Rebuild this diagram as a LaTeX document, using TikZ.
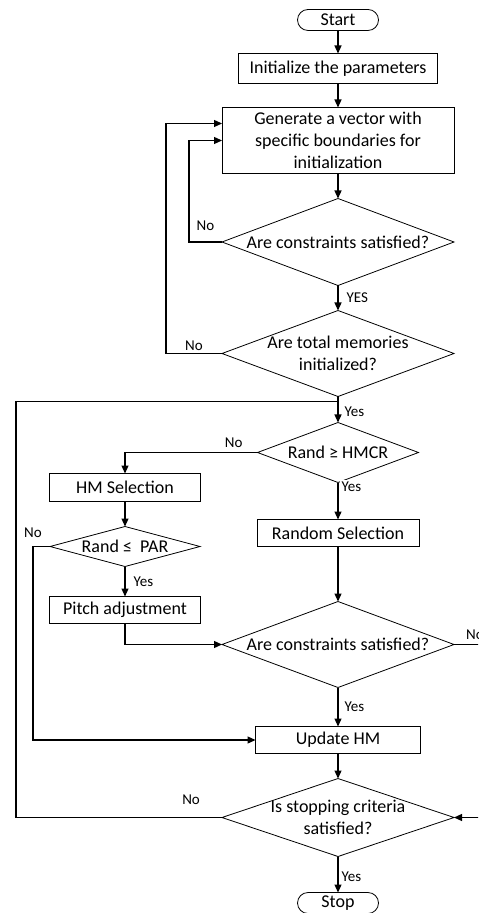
\documentclass[tikz,border=0pt]{standalone}
\usepackage{fontspec}
\setmainfont{Carlito}
\usetikzlibrary{arrows.meta,positioning,shapes.geometric}
\tikzset{
 terminal/.style={draw,rounded corners=5.25pt,minimum width=40.5pt,minimum height=10.5pt,inner sep=0pt,outer sep=0pt,font=\fontsize{9}{11}\selectfont},
 process/.style={draw,inner sep=0pt,outer sep=0pt,minimum height=13.5pt,align=center,font=\fontsize{9}{11}\selectfont},
 decision/.style={draw,diamond,shape aspect=2.7,inner xsep=0pt,inner ysep=-3pt,outer sep=0pt,align=center,font=\fontsize{9}{11}\selectfont},
 flow/.style={-{Triangle[length=4pt,width=3.5pt]},line width=.6pt},
 wire/.style={line width=.6pt},
 lbl/.style={font=\fontsize{7.5}{9}\selectfont,inner sep=1pt}
}
\begin{document}
\begin{tikzpicture}[x=1pt,y=1pt]
  \path[use as bounding box] (0,0) rectangle (239,-456.5);
  \clip (0,0) rectangle (239,-456.5);

  % main column
  \node[terminal] (start) at (169,-10) {Start};
  \node[process,minimum width=99.5pt,minimum height=15pt,below=11.5pt of start] (init) {Initialize the parameters};
  \node[process,minimum width=116pt,minimum height=33pt,below=12pt of init] (gen) {Generate a vector with\\specific boundaries for\\initialization};
  \node[decision,minimum width=116pt,minimum height=43.5pt,below=12.5pt of gen] (cons1) {Are constraints satisfied?};
  \node[decision,minimum width=116pt,minimum height=43pt,below=12.5pt of cons1] (totq) {Are total memories\\initialized?};
  \node[decision,minimum width=80.5pt,minimum height=30pt,below=13pt of totq] (hmcr) {Rand ≥ HMCR};
  \node[process,minimum width=81pt,below=18.5pt of hmcr] (randsel) {Random Selection};
  \node[decision,minimum width=116pt,minimum height=43pt,below=27.5pt of randsel] (cons2) {Are constraints satisfied?};
  \node[process,minimum width=82.5pt,below=19.5pt of cons2] (update) {Update HM};
  \node[decision,minimum width=116pt,minimum height=39pt,below=12.5pt of update] (stopq) {Is stopping criteria\\satisfied?};
  \node[terminal,below=18pt of stopq] (stop) {Stop};

  % left branch
  \node[process,minimum width=75.5pt,minimum height=14pt,below left=10.5pt and 28.5pt of hmcr.west] (hmsel) {HM Selection};
  \node[decision,minimum width=75pt,minimum height=20pt,below=12.5pt of hmsel] (par) {Rand ≤\ \ PAR};
  \node[process,minimum width=75.5pt,below=15pt of par] (pitch) {Pitch adjustment};

  \coordinate (loopin) at ([yshift=-2.5pt]totq.south);
  \coordinate (rturn) at ([xshift=14pt]cons2.east);

  \draw[flow] (start) -- (init);
  \draw[flow] (init) -- (gen);
  \draw[flow] (gen) -- (cons1);
  \draw[flow] (cons1) -- node[lbl,right=3pt]{YES} (totq);
  \draw[flow] (cons1.west) -- node[lbl,above=4.5pt]{No} ++(-16.5,0) |- (gen.west);
  \draw[flow] (totq.west) -- node[lbl,above=0pt]{No} ++(-28,0) |- ([yshift=8.5pt]gen.west);
  \draw[flow] (totq) -- node[lbl,right=2pt,pos=.6]{Yes} (hmcr);
  \draw[flow] (hmcr.west) -| node[lbl,above=1pt,pos=.09]{No} (hmsel.north);
  \draw[flow] (hmcr) -- node[lbl,right=.5pt,pos=.12,fill=white]{Yes} (randsel);
  \draw[flow] (randsel) -- (cons2);
  \draw[flow] (hmsel) -- (par);
  \draw[flow] (par) -- node[lbl,right=3pt]{Yes} (pitch);
  \draw[flow] (par.west) -- ++(-8.5,0) node[lbl,above=3pt]{No} |- (update.west);
  \draw[flow] (pitch.south) |- (cons2.west);
  \draw[flow] (cons2) -- node[lbl,right=2pt]{Yes} (update);
  \draw[flow] (cons2.east) -- node[lbl,above=1pt,pos=.75]{No} (rturn) |- (stopq.east);
  \draw[flow] (update) -- (stopq);
  \draw[flow] (stopq) -- node[lbl,right=.5pt,pos=.55]{Yes} (stop);
  \draw[wire] (stopq.west) -- node[lbl,above=5pt,pos=.15]{No} ++(-103,0) |- (loopin);
\end{tikzpicture}
\end{document}
